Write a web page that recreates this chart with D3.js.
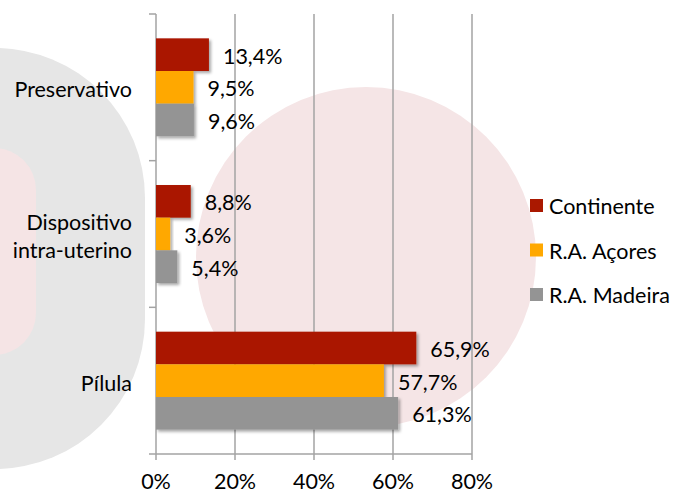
<html>
<head>
    <meta charset="utf-8">
    <title>Métodos contracetivos</title>
    <style>
        body { margin: 0; background: #fff; }
        text { font-family: Lato, "Open Sans", sans-serif; fill: #000; }
        .grid line { stroke: #a3a3a3; stroke-width: 1.5px; }
    </style>
</head>
<body>
    <svg width="673" height="493"></svg>
    <script src="https://d3js.org/d3.v7.min.js"></script>
    <script>
        // data
        var categories = ["Preservativo", "Dispositivo intra-uterino", "Pílula"];
        var categoryLines = [["Preservativo"], ["Dispositivo", "intra-uterino"], ["Pílula"]];
        var seriesNames = ["Continente", "R.A. Açores", "R.A. Madeira"];
        var continente = [13.4, 8.8, 65.9];
        var acores = [9.5, 3.6, 57.7];
        var madeira = [9.6, 5.4, 61.3];
        var xTicks = [0, 20, 40, 60, 80];
        var colors = ["#aa1800", "#ffa800", "#949494"];

        var seriesValues = [continente, acores, madeira];
        var fs = 21.5;

        var svg = d3.select("svg");
        var plotLeft = 156, plotRight = 472, plotTop = 14, plotBottom = 454;

        // decorative background shapes
        svg.append("rect").attr("x", -155).attr("y", 48).attr("width", 300).attr("height", 421)
            .attr("rx", 150).attr("ry", 150).attr("fill", "#e6e6e6");
        svg.append("rect").attr("x", -100).attr("y", 148).attr("width", 136).attr("height", 207)
            .attr("rx", 42).attr("ry", 42).attr("fill", "#f5e4e5");
        svg.append("circle").attr("cx", 366).attr("cy", 257).attr("r", 170).attr("fill", "#f5e5e6");

        var defs = svg.append("defs");
        var f = defs.append("filter").attr("id", "shadow").attr("x", "-10%").attr("y", "-20%")
            .attr("width", "130%").attr("height", "160%");
        f.append("feDropShadow").attr("dx", 2).attr("dy", 2).attr("stdDeviation", 1.5)
            .attr("flood-color", "#000").attr("flood-opacity", 0.35);

        var x = d3.scaleLinear().domain([0, 80]).range([plotLeft, plotRight]);
        var y = d3.scaleBand().domain(categories).range([plotTop, plotBottom])
            .paddingInner(0.332).paddingOuter(0.166);
        var ys = d3.scaleBand().domain(seriesNames).range([0, y.bandwidth()]);

        // grid
        svg.append("g").attr("class", "grid")
            .selectAll("line").data(xTicks.slice(1)).enter().append("line")
            .attr("x1", d => x(d)).attr("x2", d => x(d))
            .attr("y1", plotTop).attr("y2", plotBottom + 6);

        // axes lines
        var ax = svg.append("g").attr("class", "grid");
        ax.append("line").attr("x1", x(0)).attr("x2", x(0)).attr("y1", plotTop).attr("y2", plotBottom + 6);
        ax.append("line").attr("x1", x(0) - 7).attr("x2", x(80)).attr("y1", plotBottom).attr("y2", plotBottom);
        var step = y.step();
        ax.selectAll(".ytick").data(d3.range(categories.length)).enter().append("line")
            .attr("x1", x(0) - 7).attr("x2", x(0))
            .attr("y1", d => plotTop + d * step).attr("y2", d => plotTop + d * step);

        // x tick labels
        svg.append("g").selectAll("text").data(xTicks).enter().append("text")
            .attr("x", d => x(d)).attr("y", 489)
            .attr("text-anchor", "middle").attr("font-size", fs)
            .text(d => d + "%");

        // bars
        var groups = svg.append("g").selectAll("g").data(seriesNames).enter().append("g");
        groups.each(function (s, si) {
            var g = d3.select(this);
            var vals = seriesValues[si];
            g.selectAll("rect").data(categories).enter().append("rect")
                .attr("x", x(0))
                .attr("y", c => y(c) + ys(s))
                .attr("width", (c, i) => x(vals[i]) - x(0))
                .attr("height", ys.bandwidth())
                .attr("fill", colors[si])
                .attr("filter", "url(#shadow)");
            g.selectAll("text").data(categories).enter().append("text")
                .attr("x", (c, i) => x(vals[i]) + 14)
                .attr("y", c => y(c) + ys(s) + ys.bandwidth() / 2 + 9)
                .attr("font-size", fs)
                .text((c, i) => String(vals[i]).replace(".", ",") + "%");
        });

        // category labels
        var cl = svg.append("g").selectAll("text").data(categories).enter().append("text")
            .attr("text-anchor", "end").attr("font-size", fs);
        cl.each(function (c, i) {
            var lines = categoryLines[i];
            var cy = y(c) + y.bandwidth() / 2 + 2;
            d3.select(this).selectAll("tspan").data(lines).enter().append("tspan")
                .attr("x", 132)
                .attr("y", (l, j) => cy + (j - (lines.length - 1) / 2) * 28 + 8)
                .text(l => l);
        });

        // legend
        var lg = svg.append("g").selectAll("g").data(seriesNames).enter().append("g")
            .attr("transform", (d, i) => "translate(530," + (199 + i * 44.5) + ")");
        lg.append("rect").attr("width", 13).attr("height", 13).attr("fill", (d, i) => colors[i]);
        lg.append("text").attr("x", 19).attr("y", 15).attr("font-size", fs).text(d => d);
    </script>
</body>
</html>
